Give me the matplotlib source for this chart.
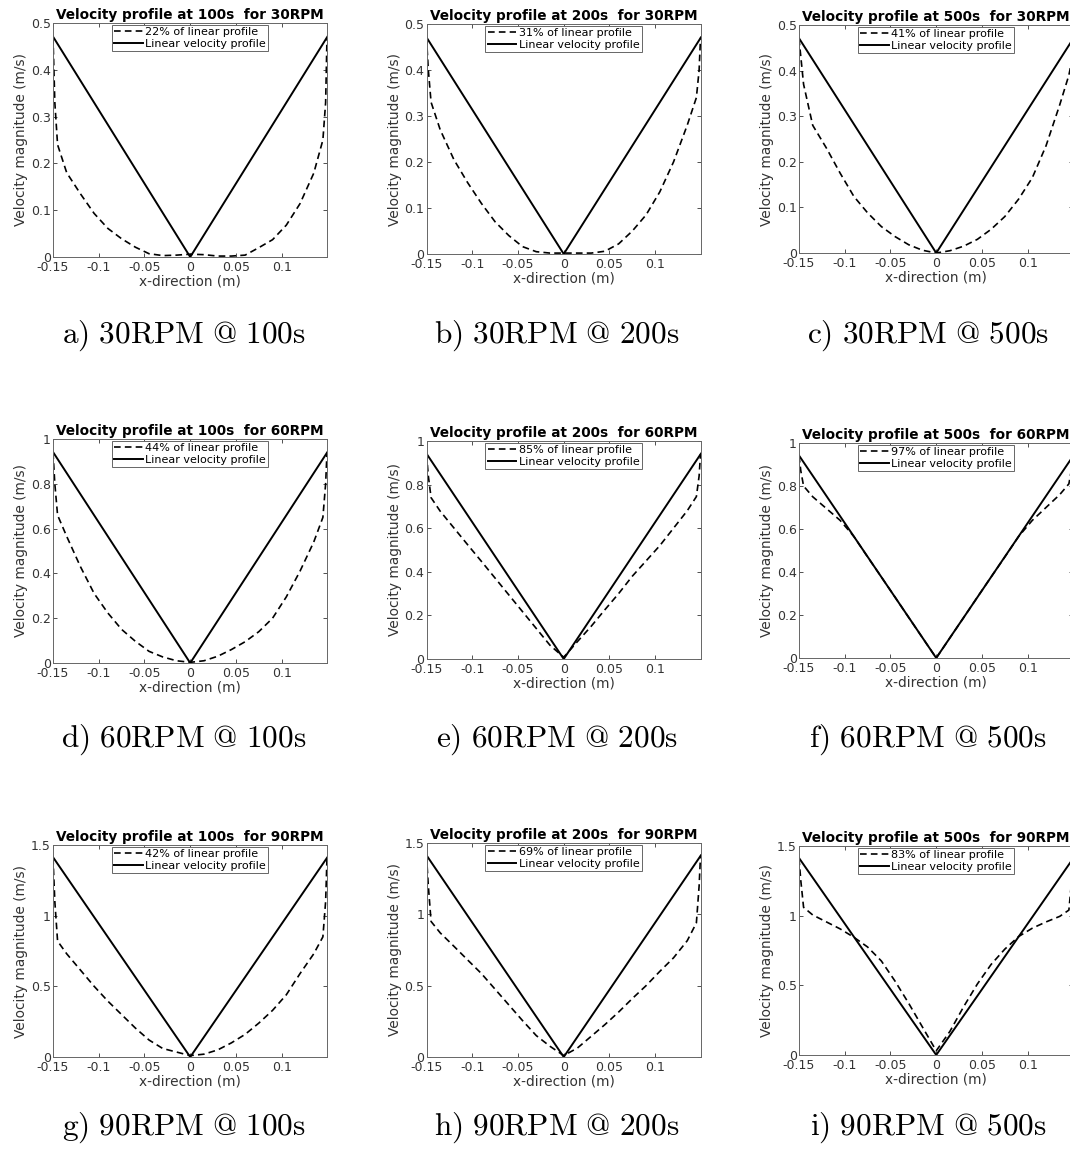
import matplotlib.pyplot as plt
from matplotlib.ticker import FuncFormatter

plt.rcParams['font.family'] = ['DejaVu Sans']
plt.rcParams['mathtext.fontset'] = 'cm'
plt.rcParams['axes.unicode_minus'] = False

# position across the tank (m)
x_pts = [-0.15, -0.148, -0.145, -0.135, -0.12, -0.105, -0.09, -0.075, -0.06, -0.045, -0.03, -0.015, 0,
         0.015, 0.03, 0.045, 0.06, 0.075, 0.09, 0.105, 0.12, 0.135, 0.145, 0.148, 0.1495]

# linear (solid body) profile
lin_x = [-0.15, 0, 0.15]
lin_30 = [0.471, 0, 0.471]
lin_60 = [0.942, 0, 0.942]
lin_90 = [1.414, 0, 1.414]

# simulated profiles
v30_100 = [0.47, 0.33, 0.24, 0.18, 0.135, 0.093, 0.061, 0.039, 0.021, 0.007, 0.003, 0.004, 0.006,
           0.005, 0.002, 0.002, 0.004, 0.02, 0.037, 0.068, 0.114, 0.179, 0.25, 0.33, 0.47]
v30_200 = [0.47, 0.40, 0.33, 0.27, 0.205, 0.155, 0.11, 0.07, 0.04, 0.016, 0.005, 0.002, 0.002,
           0.002, 0.002, 0.006, 0.022, 0.05, 0.085, 0.135, 0.2, 0.28, 0.34, 0.40, 0.47]
v30_500 = [0.47, 0.43, 0.37, 0.28, 0.23, 0.175, 0.124, 0.088, 0.058, 0.036, 0.018, 0.006, 0.0,
           0.005, 0.015, 0.03, 0.052, 0.08, 0.118, 0.165, 0.235, 0.325, 0.39, 0.42, 0.46]
v60_100 = [0.94, 0.8, 0.66, 0.565, 0.43, 0.31, 0.223, 0.15, 0.097, 0.052, 0.027, 0.01, 0.003,
           0.01, 0.03, 0.06, 0.095, 0.14, 0.2, 0.295, 0.41, 0.54, 0.65, 0.8, 0.94]
v60_200 = [0.94, 0.84, 0.74, 0.678, 0.601, 0.524, 0.448, 0.371, 0.294, 0.217, 0.14, 0.063, 0.008,
           0.08, 0.15, 0.226, 0.3, 0.38, 0.45, 0.52, 0.6, 0.68, 0.745, 0.84, 0.94]
v60_500 = [0.94, 0.87, 0.8, 0.75, 0.695, 0.64, 0.565, 0.47, 0.377, 0.283, 0.188, 0.094, 0.0,
           0.094, 0.188, 0.283, 0.377, 0.47, 0.565, 0.64, 0.7, 0.76, 0.81, 0.88, 0.94]
v90_100 = [1.41, 1.1, 0.82, 0.73, 0.615, 0.5, 0.395, 0.30, 0.205, 0.12, 0.06, 0.035, 0.01,
           0.02, 0.05, 0.1, 0.16, 0.24, 0.33, 0.44, 0.59, 0.73, 0.85, 1.1, 1.41]
v90_200 = [1.41, 1.2, 0.95, 0.87, 0.776, 0.68, 0.585, 0.475, 0.365, 0.255, 0.15, 0.075, 0.01,
           0.063, 0.145, 0.227, 0.315, 0.41, 0.5, 0.6, 0.695, 0.815, 0.94, 1.2, 1.41]
v90_500 = [1.41, 1.25, 1.06, 1.005, 0.955, 0.905, 0.845, 0.775, 0.675, 0.53, 0.37, 0.2, 0.03,
           0.17, 0.347, 0.51, 0.65, 0.76, 0.85, 0.91, 0.955, 0.995, 1.04, 1.25, 1.41]

rpms = ['30', '60', '90']
times = ['100', '200', '500']
percents = [['22', '31', '41'], ['44', '85', '97'], ['42', '69', '83']]
curves = [[v30_100, v30_200, v30_500], [v60_100, v60_200, v60_500], [v90_100, v90_200, v90_500]]
linears = [lin_30, lin_60, lin_90]
ylims = [0.5, 1.0, 1.5]
yticks = [[0, 0.1, 0.2, 0.3, 0.4, 0.5], [0, 0.2, 0.4, 0.6, 0.8, 1], [0, 0.5, 1, 1.5]]
xticks = [-0.15, -0.1, -0.05, 0, 0.05, 0.1]
letters = [['a', 'b', 'c'], ['d', 'e', 'f'], ['g', 'h', 'i']]

W, H = 1070, 1155
fig = plt.figure(figsize=(W / 100, H / 100), dpi=100)

# axes boxes in pixels: left, top, bottom
col_left = [53, 426.5, 799]
ax_w = 274
row_boxes = [[(23, 257), (24, 254), (25, 253)],
             [(439, 663), (441, 659), (443, 658)],
             [(845, 1057), (843, 1057), (846, 1055)]]
cap_x = [184, 557, 928]
cap_y = [336, 740, 1128]

fmt = FuncFormatter(lambda v, p: '%g' % v)

for r in range(3):
    for c in range(3):
        top, bot = row_boxes[r][c]
        ax = fig.add_axes([col_left[c] / W, 1 - bot / H, ax_w / W, (bot - top) / H])
        ax.plot(x_pts, curves[r][c], color='black', lw=1.2, linestyle=(0, (4, 2.5)),
                label=percents[r][c] + '% of linear profile')
        ax.plot(lin_x, linears[r], color='black', lw=1.4, label='Linear velocity profile')
        ax.set_xlim(-0.15, 0.1495)
        ax.set_ylim(0, ylims[r])
        ax.set_xticks(xticks)
        ax.set_yticks(yticks[r])
        ax.xaxis.set_major_formatter(fmt)
        ax.yaxis.set_major_formatter(fmt)
        ax.tick_params(direction='in', top=True, right=True, length=3, width=0.6,
                       labelsize=9, colors='#333333', pad=1.5)
        ax.tick_params(axis='x', pad=3)
        for s in ax.spines.values():
            s.set_color('#666666')
            s.set_linewidth(0.7)
        ax.set_title('Velocity profile at ' + times[c] + 's  for ' + rpms[r] + 'RPM',
                     fontsize=9.8, fontweight='bold', pad=3)
        ax.set_xlabel('x-direction (m)', fontsize=9.9, color='#333333', labelpad=0)
        ax.set_ylabel('Velocity magnitude (m/s)', fontsize=9.9, color='#333333', labelpad=2)
        leg = ax.legend(loc='upper center', fontsize=8, handlelength=2.6, handletextpad=0.2,
                        borderpad=0.2, labelspacing=0.15, borderaxespad=0.15,
                        fancybox=False, framealpha=1)
        leg.get_frame().set_edgecolor('#666666')
        leg.get_frame().set_linewidth(0.7)
        fig.text(cap_x[c] / W, 1 - cap_y[r] / H,
                 r'$\mathrm{' + letters[r][c] + r')\ ' + rpms[r] + r'RPM\ @\ ' + times[c] + r's}$',
                 fontsize=22.5, ha='center', va='center')

fig.savefig('out.png', dpi=100)
